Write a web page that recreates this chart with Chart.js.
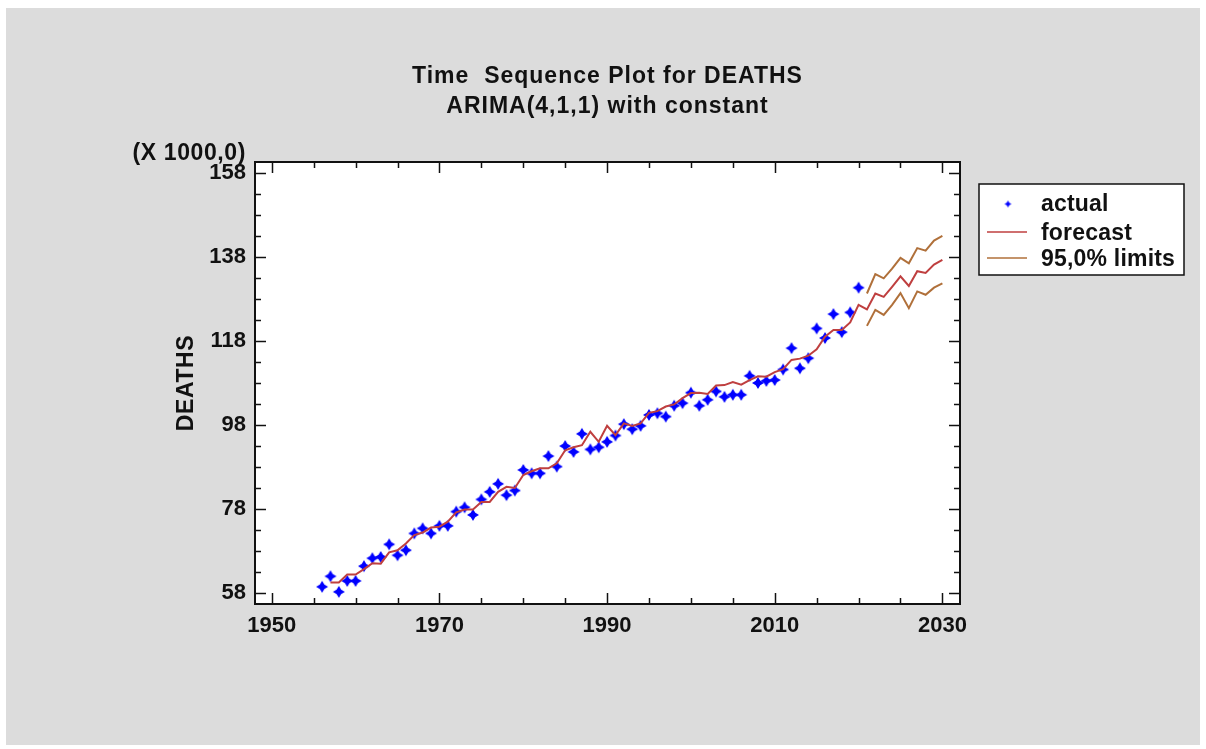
<!DOCTYPE html>
<html><head><meta charset="utf-8">
<script src="https://cdn.jsdelivr.net/npm/chart.js@4/dist/chart.umd.min.js"></script>
<style>html,body{margin:0;padding:0;background:#fff;} canvas{display:block}</style>
</head><body>
<canvas id="c" width="1206" height="749"></canvas>
<script>
const actualYears = [1956,1957,1958,1959,1960,1961,1962,1963,1964,1965,1966,1967,1968,1969,1970,1971,1972,1973,1974,1975,1976,1977,1978,1979,1980,1981,1982,1983,1984,1985,1986,1987,1988,1989,1990,1991,1992,1993,1994,1995,1996,1997,1998,1999,2000,2001,2002,2003,2004,2005,2006,2007,2008,2009,2010,2011,2012,2013,2014,2015,2016,2017,2018,2019,2020];
const actualValues = [59.5,62.0,58.3,60.9,60.9,64.4,66.3,66.6,69.6,67.0,68.2,72.2,73.4,72.2,74.0,74.0,77.4,78.4,76.6,80.3,82.1,84.0,81.3,82.4,87.3,86.5,86.5,90.6,88.1,93.0,91.6,95.9,92.2,92.7,94.0,95.5,98.2,97.0,97.8,100.4,100.8,100.0,102.6,103.2,105.7,102.6,104.0,106.0,104.7,105.2,105.2,109.7,108.0,108.5,108.7,111.2,116.3,111.5,113.9,121.0,118.7,124.4,120.1,124.8,130.7];
const forecastYears = [1957,1958,1959,1960,1961,1962,1963,1964,1965,1966,1967,1968,1969,1970,1971,1972,1973,1974,1975,1976,1977,1978,1979,1980,1981,1982,1983,1984,1985,1986,1987,1988,1989,1990,1991,1992,1993,1994,1995,1996,1997,1998,1999,2000,2001,2002,2003,2004,2005,2006,2007,2008,2009,2010,2011,2012,2013,2014,2015,2016,2017,2018,2019,2020,2021,2022,2023,2024,2025,2026,2027,2028,2029,2030];
const forecastValues = [60.5,60.5,62.4,62.4,63.7,65.1,65.0,67.7,68.2,69.8,71.8,72.4,73.6,73.8,75.0,77.2,77.9,77.9,79.7,79.7,82.1,83.3,83.0,86.1,87.0,87.7,87.7,88.9,92.0,92.7,93.2,96.4,94.0,97.8,95.6,98.4,97.8,98.4,100.9,101.3,102.4,102.9,104.4,105.6,105.7,105.4,107.4,107.5,108.2,107.6,108.7,109.6,109.5,110.6,111.3,113.5,113.8,114.5,116.0,119.0,120.6,120.6,122.4,126.6,125.5,129.3,128.5,130.9,133.4,131.1,134.6,134.2,136.2,137.3];
const limitYears = [2021,2022,2023,2024,2025,2026,2027,2028,2029,2030];
const upperLimits = [129.3,133.9,132.9,135.2,137.8,136.5,140.1,139.5,141.9,143.0];
const lowerLimits = [121.6,125.4,124.2,126.6,129.4,125.8,129.8,129.0,130.7,131.7];
const xMajorTicks = [1950,1970,1990,2010,2030];
const xMinorTicks = [1955,1960,1965,1975,1980,1985,1995,2000,2005,2015,2020,2025];
const yMajorTicks = [58,78,98,118,138,158];
const yMinorTicks = [63,68,73,83,88,93,103,108,113,123,128,133,143,148,153];

const titleLines = ['Time  Sequence Plot for DEATHS', 'ARIMA(4,1,1) with constant'];
const yTitle = 'DEATHS';
const yScaleNote = '(X 1000,0)';
const legendLabels = ['actual', 'forecast', '95,0% limits'];

const BLUE = '#0000ff', RED = '#bf3f3f', BROWN = '#b0703a';
const FONT = '"Liberation Sans", Arial, sans-serif';

function makeStar(r, ri, color) {
  const s = Math.ceil(r * 2 + 2);
  const cv = document.createElement('canvas');
  cv.width = s; cv.height = s;
  const c = cv.getContext('2d');
  const cx = s / 2, cy = s / 2;
  c.fillStyle = color;
  c.beginPath();
  for (let i = 0; i < 8; i++) {
    const ang = -Math.PI / 2 + i * Math.PI / 4;
    const rr = i % 2 === 0 ? r : ri;
    const px = cx + rr * Math.cos(ang), py = cy + rr * Math.sin(ang);
    if (i === 0) c.moveTo(px, py); else c.lineTo(px, py);
  }
  c.closePath();
  c.fill();
  return cv;
}
const starBig = makeStar(6, 3.2, BLUE);

const toXY = (xs, ys) => xs.map((x, i) => ({x: x, y: ys[i]}));

const decor = {
  id: 'decor',
  beforeDraw(chart) {
    const ctx = chart.ctx, a = chart.chartArea;
    ctx.save();
    ctx.fillStyle = '#ffffff';
    ctx.fillRect(0, 0, chart.width, chart.height);
    ctx.fillStyle = '#dcdcdc';
    ctx.fillRect(6, 8, 1194, 737);
    ctx.fillStyle = '#ffffff';
    ctx.fillRect(a.left, a.top, a.right - a.left, a.bottom - a.top);
    ctx.restore();
  },
  afterDraw(chart) {
    const ctx = chart.ctx, a = chart.chartArea;
    const xs = chart.scales.x, ys = chart.scales.y;
    ctx.save();
    ctx.strokeStyle = '#111';
    ctx.lineWidth = 1.5;
    const tick = (x1, y1, x2, y2) => { ctx.beginPath(); ctx.moveTo(x1, y1); ctx.lineTo(x2, y2); ctx.stroke(); };
    yMajorTicks.forEach(v => { const p = Math.round(ys.getPixelForValue(v)) + 0.5; tick(a.left, p, a.left + 11, p); tick(a.right, p, a.right - 11, p); });
    yMinorTicks.forEach(v => { const p = Math.round(ys.getPixelForValue(v)) + 0.5; tick(a.left, p, a.left + 6, p); tick(a.right, p, a.right - 6, p); });
    xMajorTicks.forEach(v => { const p = Math.round(xs.getPixelForValue(v)) + 0.5; tick(p, a.bottom, p, a.bottom - 11); tick(p, a.top, p, a.top + 11); });
    xMinorTicks.forEach(v => { const p = Math.round(xs.getPixelForValue(v)) + 0.5; tick(p, a.bottom, p, a.bottom - 6); tick(p, a.top, p, a.top + 6); });
    ctx.lineWidth = 2;
    ctx.strokeRect(a.left, a.top, a.right - a.left, a.bottom - a.top);

    ctx.fillStyle = '#111';
    ctx.font = 'bold 23px ' + FONT;
    ctx.letterSpacing = '1px';
    ctx.textAlign = 'center';
    ctx.textBaseline = 'alphabetic';
    const cx = (a.left + a.right) / 2;
    ctx.fillText(titleLines[0], cx, 83);
    ctx.fillText(titleLines[1], cx, 113);
    ctx.letterSpacing = '0.6px';
    ctx.textAlign = 'right';
    ctx.fillText(yScaleNote, a.left - 9, 160);
    ctx.save();
    ctx.translate(193, (a.top + a.bottom) / 2);
    ctx.rotate(-Math.PI / 2);
    ctx.textAlign = 'center';
    ctx.fillText(yTitle, 0, 0);
    ctx.restore();

    // legend
    const L = {x: 979, y: 184, w: 205, h: 91};
    ctx.fillStyle = '#ffffff';
    ctx.fillRect(L.x, L.y, L.w, L.h);
    ctx.strokeStyle = '#111';
    ctx.lineWidth = 1.5;
    ctx.strokeRect(L.x, L.y, L.w, L.h);
    ctx.drawImage(makeStar(3.5, 1.8, BLUE), 1008 - 4.5, 204 - 4.5);
    ctx.lineWidth = 1.5;
    ctx.strokeStyle = RED; tick(987, 232, 1027, 232);
    ctx.strokeStyle = BROWN; tick(987, 258, 1027, 258);
    ctx.fillStyle = '#111';
    ctx.textAlign = 'left';
    ctx.letterSpacing = '0.2px';
    ctx.fillText(legendLabels[0], 1041, 211);
    ctx.fillText(legendLabels[1], 1041, 240);
    ctx.fillText(legendLabels[2], 1041, 266);
    ctx.restore();
  }
};

new Chart(document.getElementById('c'), {
  type: 'line',
  data: {
    datasets: [
      {label: 'actual', data: toXY(actualYears, actualValues), showLine: false, pointStyle: starBig, pointRadius: 6, pointHoverRadius: 6, borderColor: BLUE, backgroundColor: BLUE, order: 2},
      {label: 'forecast', data: toXY(forecastYears, forecastValues), borderColor: RED, borderWidth: 2, pointRadius: 0, tension: 0, fill: false, order: 1},
      {label: 'upper', data: toXY(limitYears, upperLimits), borderColor: BROWN, borderWidth: 2, pointRadius: 0, tension: 0, fill: false, order: 1},
      {label: 'lower', data: toXY(limitYears, lowerLimits), borderColor: BROWN, borderWidth: 2, pointRadius: 0, tension: 0, fill: false, order: 1}
    ]
  },
  options: {
    responsive: false,
    animation: false,
    events: [],
    layout: {padding: {left: 0, top: 162, right: 246, bottom: 0}},
    plugins: {legend: {display: false}, title: {display: false}, tooltip: {enabled: false}},
    scales: {
      x: {
        type: 'linear', min: 1948, max: 2032.1,
        grid: {display: false, drawTicks: false}, border: {display: false},
        afterFit: s => { s.height = 145; },
        afterBuildTicks: s => { s.ticks = xMajorTicks.map(v => ({value: v})); },
        ticks: {font: {family: FONT, size: 22, weight: 'bold'}, color: '#111', padding: 9, maxRotation: 0, autoSkip: false, callback: v => String(v)}
      },
      y: {
        type: 'linear', min: 55.4, max: 160.6,
        grid: {display: false, drawTicks: false}, border: {display: false},
        afterFit: s => { s.width = 255; },
        afterBuildTicks: s => { s.ticks = yMajorTicks.map(v => ({value: v})); },
        ticks: {font: {family: FONT, size: 22, weight: 'bold'}, color: '#111', padding: 9, autoSkip: false, callback: v => String(v)}
      }
    }
  },
  plugins: [decor]
});
</script>
</body></html>
